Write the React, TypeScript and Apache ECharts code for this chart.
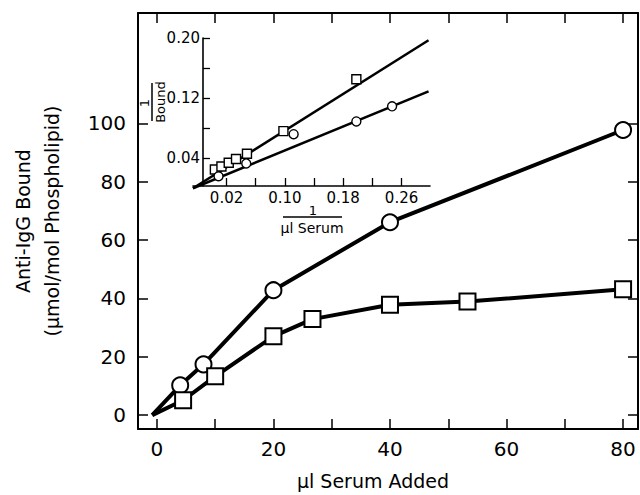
import React, { useEffect, useRef } from "react";
import * as echarts from "echarts";

// Main panel: µl serum added vs anti-IgG bound
const circleSerum = [4, 8, 20, 40, 80];
const circleBound = [10.2, 17.4, 42.8, 66.1, 97.7];
const squareSerum = [4.5, 10, 20, 26.7, 40, 53.3, 80];
const squareBound = [5.1, 13.3, 27.0, 32.9, 37.8, 38.9, 43.1];
const curveOrigin = [-0.8, 0];

const xTicks = [0, 10, 20, 30, 40, 50, 60, 70, 80];
const xLabels = [0, 20, 40, 60, 80];
const yTicks = [0, 20, 40, 60, 80, 100];
const yLabels = [0, 20, 40, 60, 80, 100];

// Inset: double reciprocal plot
const invSerumSquare = [0.004, 0.013, 0.023, 0.033, 0.048, 0.098, 0.198];
const invBoundSquare = [0.025, 0.029, 0.034, 0.039, 0.046, 0.076, 0.145];
const invSerumCircle = [0.009, 0.047, 0.112, 0.198, 0.247];
const invBoundCircle = [0.016, 0.033, 0.072, 0.089, 0.109];
const fitSquareX = [-0.026, 0.297];
const fitSquareY = [0, 0.197];
const fitCircleX = [-0.026, 0.297];
const fitCircleY = [0, 0.129];

const insetXTicks = [0.02, 0.06, 0.1, 0.14, 0.18, 0.22, 0.26, 0.3];
const insetXLabels = [0.02, 0.1, 0.18, 0.26];
const insetYTicks = [0.04, 0.08, 0.12, 0.16, 0.2];
const insetYLabels = [0.04, 0.12, 0.2];

const FONT = "DejaVu Sans";
const INK = "#000";

const zip = (xs: number[], ys: number[]) => xs.map((x, i) => [x, ys[i]]);

export default function App() {
  const ref = useRef<HTMLDivElement>(null);

  useEffect(() => {
    if (!ref.current) return;
    const chart = echarts.init(ref.current, undefined, { renderer: "svg" });

    const frameLine = { show: true, onZero: false, lineStyle: { color: INK, width: 2 } };
    const mainTick = (vals: number[]) => ({
      show: true,
      inside: true,
      length: 10,
      customValues: vals,
      lineStyle: { color: INK, width: 1.5 },
    });
    const insetTick = (vals: number[], len: number) => ({
      show: true,
      inside: true,
      length: len,
      customValues: vals,
      lineStyle: { color: INK, width: 1.3 },
    });

    const option: any = {
      animation: false,
      backgroundColor: "#fff",
      grid: [
        { left: 135, right: 2, top: 13, bottom: 63 },
        { left: 193, right: 210, top: 38, bottom: 309 },
      ],
      xAxis: [
        {
          type: "value",
          gridIndex: 0,
          position: "bottom",
          min: -3.24,
          max: 82.56,
          axisLine: frameLine,
          axisTick: mainTick(xTicks),
          axisLabel: {
            customValues: xLabels,
            color: INK,
            fontFamily: FONT,
            fontSize: 20,
            margin: 10,
          },
          splitLine: { show: false },
          name: "µl Serum Added",
          nameLocation: "middle",
          nameGap: 42,
          nameTextStyle: {
            color: INK,
            fontFamily: FONT,
            fontSize: 19,
            padding: [0, 30, 0, 0],
          },
        },
        {
          type: "value",
          gridIndex: 0,
          position: "top",
          min: -3.24,
          max: 82.56,
          axisLine: frameLine,
          axisTick: mainTick(xTicks),
          axisLabel: { show: false },
          splitLine: { show: false },
        },
        {
          type: "value",
          gridIndex: 1,
          position: "bottom",
          min: -0.026,
          max: 0.299,
          axisLine: { show: true, onZero: false, lineStyle: { color: INK, width: 1.6 } },
          axisTick: insetTick(insetXTicks, 8),
          axisLabel: {
            customValues: insetXLabels,
            formatter: (v: number) => v.toFixed(2),
            color: INK,
            fontFamily: FONT,
            fontSize: 15,
            margin: 4,
          },
          splitLine: { show: false },
        },
      ],
      yAxis: [
        {
          type: "value",
          gridIndex: 0,
          position: "left",
          min: -4.76,
          max: 137.8,
          axisLine: frameLine,
          axisTick: mainTick(yTicks),
          axisLabel: {
            customValues: yLabels,
            color: INK,
            fontFamily: FONT,
            fontSize: 20,
            margin: 12,
          },
          splitLine: { show: false },
          name: "Anti-IgG Bound\n(µmol/mol Phospholipid)",
          nameLocation: "middle",
          nameRotate: 90,
          nameGap: 72,
          nameTextStyle: {
            color: INK,
            fontFamily: FONT,
            fontSize: 19,
            lineHeight: 29,
          },
        },
        {
          type: "value",
          gridIndex: 0,
          position: "right",
          min: -4.76,
          max: 137.8,
          axisLine: frameLine,
          axisTick: mainTick(yTicks),
          axisLabel: { show: false },
          splitLine: { show: false },
        },
        {
          type: "value",
          gridIndex: 1,
          position: "left",
          offset: -10,
          min: 0.003,
          max: 0.2,
          axisLine: { show: true, onZero: false, lineStyle: { color: INK, width: 1.6 } },
          axisTick: insetTick(insetYTicks, 7),
          axisLabel: {
            customValues: insetYLabels,
            formatter: (v: number) => v.toFixed(2),
            color: INK,
            fontFamily: FONT,
            fontSize: 15,
            margin: 3,
          },
          splitLine: { show: false },
        },
      ],
      series: [
        {
          name: "Circles",
          type: "line",
          xAxisIndex: 0,
          yAxisIndex: 0,
          data: [{ value: curveOrigin, symbol: "none" }, ...zip(circleSerum, circleBound)],
          symbol: "circle",
          symbolSize: 16,
          lineStyle: { color: INK, width: 4 },
          itemStyle: { color: "#fff", borderColor: INK, borderWidth: 2 },
          z: 3,
        },
        {
          name: "Squares",
          type: "line",
          xAxisIndex: 0,
          yAxisIndex: 0,
          data: [{ value: curveOrigin, symbol: "none" }, ...zip(squareSerum, squareBound)],
          symbol: "rect",
          symbolSize: 16,
          lineStyle: { color: INK, width: 4 },
          itemStyle: { color: "#fff", borderColor: INK, borderWidth: 2 },
          z: 3,
        },
        {
          name: "Squares fit",
          type: "line",
          xAxisIndex: 2,
          yAxisIndex: 2,
          data: zip(fitSquareX, fitSquareY),
          symbol: "none",
          clip: false,
          lineStyle: { color: INK, width: 2.5 },
          z: 2,
        },
        {
          name: "Circles fit",
          type: "line",
          xAxisIndex: 2,
          yAxisIndex: 2,
          data: zip(fitCircleX, fitCircleY),
          symbol: "none",
          clip: false,
          lineStyle: { color: INK, width: 2.5 },
          z: 2,
        },
        {
          name: "Squares reciprocal",
          type: "scatter",
          xAxisIndex: 2,
          yAxisIndex: 2,
          data: zip(invSerumSquare, invBoundSquare),
          symbol: "rect",
          symbolSize: 9,
          itemStyle: { color: "#fff", borderColor: INK, borderWidth: 1.4, opacity: 1 },
          z: 4,
        },
        {
          name: "Circles reciprocal",
          type: "scatter",
          xAxisIndex: 2,
          yAxisIndex: 2,
          data: zip(invSerumCircle, invBoundCircle),
          symbol: "circle",
          symbolSize: 9,
          itemStyle: { color: "#fff", borderColor: INK, borderWidth: 1.4, opacity: 1 },
          z: 4,
        },
      ],
      graphic: [
        // inset x-axis title: 1 / µl Serum
        {
          type: "text",
          x: 313,
          y: 210,
          style: { text: "1", font: `13px "${FONT}"`, fill: INK, textAlign: "center", textVerticalAlign: "middle" },
        },
        {
          type: "line",
          shape: { x1: 283, y1: 217, x2: 342, y2: 217 },
          style: { stroke: INK, lineWidth: 1.5 },
        },
        {
          type: "text",
          x: 312,
          y: 228,
          style: { text: "µl Serum", font: `14px "${FONT}"`, fill: INK, textAlign: "center", textVerticalAlign: "middle" },
        },
        // inset y-axis title: 1 / Bound
        {
          type: "text",
          x: 144,
          y: 103,
          rotation: Math.PI / 2,
          style: { text: "1", font: `13px "${FONT}"`, fill: INK, textAlign: "center", textVerticalAlign: "middle" },
        },
        {
          type: "line",
          shape: { x1: 152, y1: 83, x2: 152, y2: 121 },
          style: { stroke: INK, lineWidth: 1.5 },
        },
        {
          type: "text",
          x: 160,
          y: 102,
          rotation: Math.PI / 2,
          style: { text: "Bound", font: `13px "${FONT}"`, fill: INK, textAlign: "center", textVerticalAlign: "middle" },
        },
      ],
    };

    chart.setOption(option);
    return () => chart.dispose();
  }, []);

  return (
    <div
      ref={ref}
      style={{ position: "fixed", left: 0, top: 0, width: 640, height: 495, background: "#fff" }}
    />
  );
}
